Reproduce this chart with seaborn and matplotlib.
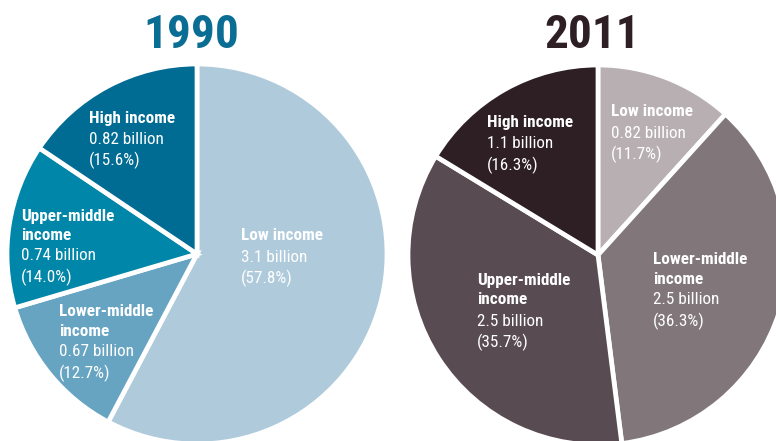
import matplotlib
matplotlib.use("Agg")
import matplotlib.pyplot as plt
import seaborn as sns

# Population by income group (billions and share of total)
groups_1990 = ["Low income", "Lower-middle income", "Upper-middle income", "High income"]
billions_1990 = ["3.1", "0.67", "0.74", "0.82"]
shares_1990 = [57.8, 12.7, 14.0, 15.6]

groups_2011 = ["Low income", "Lower-middle income", "Upper-middle income", "High income"]
billions_2011 = ["0.82", "2.5", "2.5", "1.1"]
shares_2011 = [11.7, 36.3, 35.7, 16.3]

colors_1990 = ["#aecadb", "#67a4c2", "#0086a8", "#006c93"]
colors_2011 = ["#b8afb2", "#81777a", "#594b52", "#2e1f24"]
title_colors = ["#0a6d94", "#2e1f24"]

sns.set_theme(style="white")
plt.rcParams["font.family"] = ["Roboto Condensed", "DejaVu Sans"]

W, H = 776, 441
fig = plt.figure(figsize=(W / 100, H / 100), dpi=100)
ax = fig.add_axes([0, 0, 1, 1])

# pie centres and radius in pixel units (y measured from the bottom)
pies = [
    dict(center=(197, H - 254), title="1990", shares=shares_1990, colors=colors_1990,
         groups=groups_1990, billions=billions_1990,
         # text anchors (x, y of first line, from top) for each group
         anchors=[(241, 236), (59, 312), (21, 216), (89, 118)]),
    dict(center=(598, H - 255), title="2011", shares=shares_2011, colors=colors_2011,
         groups=groups_2011, billions=billions_2011,
         anchors=[(611, 112), (653, 260), (477, 281), (487, 123)]),
]
R = 190

for i, p in enumerate(pies):
    ax.pie(p["shares"], colors=p["colors"], startangle=90, counterclock=False,
           center=p["center"], radius=R,
           wedgeprops=dict(edgecolor="white", linewidth=3.4, joinstyle="miter"))
    ax.text(p["center"][0] - 6, H - 35, p["title"], color=title_colors[i],
            fontsize=34, fontweight="bold", ha="center", va="center")
    for g, b, s, (x, y) in zip(p["groups"], p["billions"], p["shares"], p["anchors"]):
        if g == "Low income" or g == "High income":
            head = [g]
        else:
            head = [g.replace(" income", ""), "income"]
        yy = y
        for line in head:
            ax.text(x, H - yy, line, color="white", fontsize=12.3, fontweight="bold",
                    ha="left", va="center")
            yy += 19
        yy += 2
        for line in [f"{b} billion", f"({s:.1f}%)"]:
            ax.text(x, H - yy, line, color="white", fontsize=12.3,
                    ha="left", va="center")
            yy += 21.5

ax.set_xlim(0, W)
ax.set_ylim(0, H)
ax.set_aspect("equal")
ax.axis("off")
fig.savefig("out.png", dpi=100, facecolor="white")
